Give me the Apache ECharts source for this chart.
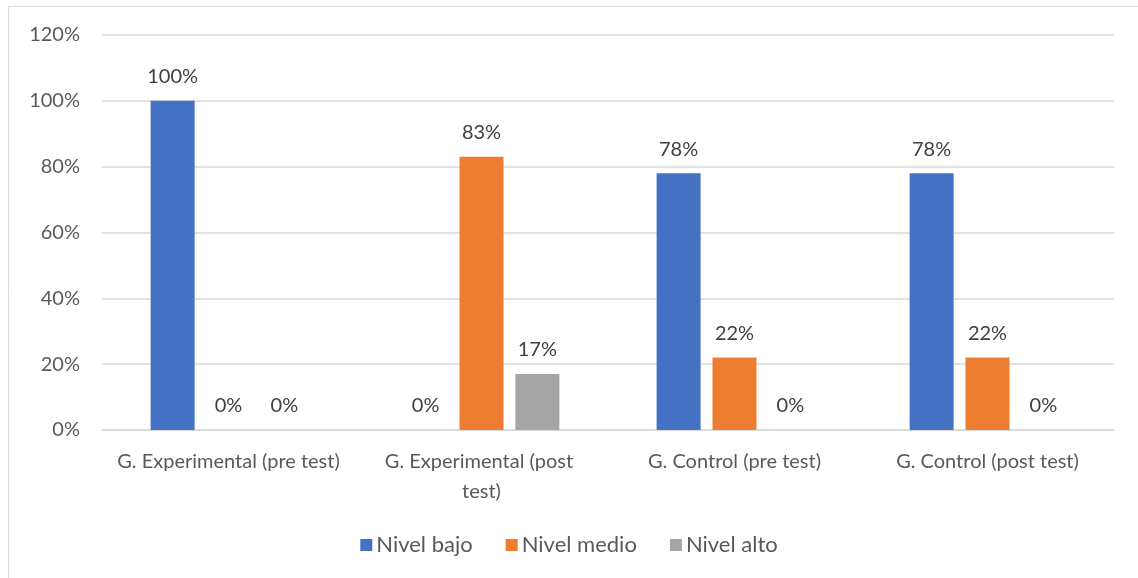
<!DOCTYPE html>
<html><head><meta charset="utf-8">
<script src="https://cdn.jsdelivr.net/npm/echarts@6/dist/echarts.min.js"></script>
<style>html,body{margin:0;padding:0;background:#fff}#c{width:1138px;height:578px}</style>
</head><body><div id="c"></div>
<script>
const categories = ['G. Experimental (pre test)', 'G. Experimental (post test)', 'G. Control (pre test)', 'G. Control (post test)'];
const nivelBajo = [100, 0, 78, 78];
const nivelMedio = [0, 83, 22, 22];
const nivelAlto = [0, 17, 0, 0];
const yTicks = [0, 20, 40, 60, 80, 100, 120];

const FONT = 'Lato, "Open Sans", sans-serif';
const TXT = '#595959';
const chart = echarts.init(document.getElementById('c'), null, {renderer: 'canvas'});
const lbl = {show: true, position: 'top', distance: 14, color: '#404040', fontSize: 20, fontFamily: FONT, formatter: p => p.value + '%'};
function mk(name, data, color) {
  return {name, type: 'bar', data, itemStyle: {color}, barWidth: 44, barGap: '27%', label: lbl};
}
chart.setOption({
  animation: false,
  graphic: [{type: 'rect', shape: {x: 8.5, y: 6.5, width: 1200, height: 700}, style: {fill: 'none', stroke: '#d9d9d9', lineWidth: 1}, silent: true}],
  grid: {left: 102, right: 24, top: 35, bottom: 148, containLabel: false},
  legend: {bottom: 17, left: 'center', itemWidth: 12, itemHeight: 12, itemGap: 33, icon: 'rect',
    textStyle: {color: TXT, fontSize: 22, fontFamily: FONT, padding: [0, 0, 0, -1]}, data: ['Nivel bajo', 'Nivel medio', 'Nivel alto']},
  xAxis: {type: 'category', data: categories,
    axisLine: {lineStyle: {color: '#d9d9d9', width: 1.5}}, axisTick: {show: false},
    axisLabel: {color: TXT, fontSize: 20, fontFamily: FONT, margin: 17, width: 227, overflow: 'break', lineHeight: 30, interval: 0}},
  yAxis: {type: 'value', min: yTicks[0], max: yTicks[yTicks.length - 1], interval: 20,
    axisLabel: {color: TXT, fontSize: 20, fontFamily: FONT, margin: 22, formatter: v => v + '%'},
    splitLine: {lineStyle: {color: '#d9d9d9', width: 1.5}}, axisLine: {show: false}, axisTick: {show: false}},
  series: [mk('Nivel bajo', nivelBajo, '#4472c4'), mk('Nivel medio', nivelMedio, '#ed7d31'), mk('Nivel alto', nivelAlto, '#a5a5a5')]
});
</script></body></html>
